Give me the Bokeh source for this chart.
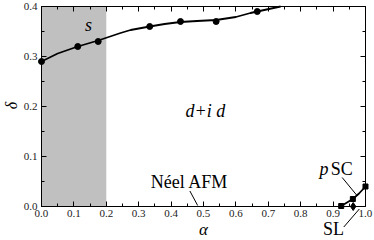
import math
from bokeh.plotting import figure
from bokeh.models import LinearAxis, Range1d, FixedTicker, CustomJSTickFormatter, PrintfTickFormatter
from bokeh.core.properties import value
from bokeh.embed import file_html
from bokeh.resources import INLINE

# d+id boundary (data points)
dpid_alpha = [0.0, 0.112, 0.175, 0.334, 0.429, 0.539, 0.666]
dpid_delta = [0.29, 0.32, 0.33, 0.36, 0.37, 0.37, 0.39]
# smooth boundary curve
fit_alpha = [0.0, 0.05, 0.112, 0.175, 0.244, 0.275, 0.334, 0.38, 0.429, 0.48, 0.539, 0.6, 0.645, 0.666, 0.738]
fit_delta = [0.29, 0.306, 0.32, 0.332, 0.347, 0.353, 0.36, 0.365, 0.369, 0.371, 0.373, 0.379, 0.387, 0.39, 0.40]
# p SC boundary
psc_alpha = [0.925, 0.961, 1.0]
psc_delta = [0.001, 0.015, 0.04]
psc_fit_alpha = [0.925, 0.961, 0.98, 1.0]
psc_fit_delta = [0.001, 0.015, 0.026, 0.04]
# spin liquid point
sl_alpha = [0.962]
sl_delta = [0.0]
# s-wave shaded region
s_left, s_right = 0.0, 0.2
x_min, x_max = 0.0, 1.0
y_min, y_max = 0.0, 0.4

x_ticks = [0.0, 0.1, 0.2, 0.3, 0.4, 0.5, 0.6, 0.7, 0.8, 0.9, 1.0]
y_ticks = [0.0, 0.1, 0.2, 0.3, 0.4]
x_minor = [round(0.05 * i, 2) for i in range(21)]
y_minor = [round(0.05 * i, 2) for i in range(9)]

SERIF = "'Liberation Serif', 'Times New Roman', serif"

p = figure(width=374, height=240, output_backend="svg", toolbar_location=None,
           x_range=Range1d(-0.1265, 1.0278), y_range=Range1d(-0.068, 0.412),
           min_border=0, x_axis_location=None, y_axis_location=None)
p.grid.visible = False
p.outline_line_color = None
p.background_fill_color = "white"
p.border_fill_color = "white"

def style_axis(ax, label=True):
    ax.axis_line_color = "black"
    ax.axis_line_width = 1
    ax.major_tick_in = 5
    ax.major_tick_out = 0
    ax.minor_tick_in = 3
    ax.minor_tick_out = 0
    ax.major_tick_line_color = "black"
    ax.minor_tick_line_color = "black"
    ax.major_label_text_font = SERIF
    ax.major_label_text_font_size = "11px"
    ax.major_label_text_color = "#222222"
    ax.major_label_standoff = 3
    ax.formatter = PrintfTickFormatter(format="%.1f")
    if not label:
        ax.formatter = CustomJSTickFormatter(code="return ''")
        ax.major_label_text_font_size = "0px"
        ax.major_label_standoff = 0

xb = LinearAxis(ticker=FixedTicker(ticks=x_ticks, minor_ticks=x_minor), fixed_location=y_min, bounds=(x_min, x_max))
style_axis(xb)
p.add_layout(xb, "below")

xt = LinearAxis(ticker=FixedTicker(ticks=x_ticks, minor_ticks=x_minor), fixed_location=y_max, bounds=(x_min, x_max))
style_axis(xt, label=False)
p.add_layout(xt, "above")

yl = LinearAxis(ticker=FixedTicker(ticks=y_ticks, minor_ticks=y_minor), fixed_location=x_min, bounds=(y_min, y_max))
style_axis(yl)
yl.major_label_standoff = 4
p.add_layout(yl, "left")

yr = LinearAxis(ticker=FixedTicker(ticks=y_ticks, minor_ticks=y_minor), fixed_location=x_max, bounds=(y_min, y_max))
style_axis(yr, label=False)
p.add_layout(yr, "right")

# shaded s region
p.quad(left=[s_left], right=[s_right], bottom=[y_min], top=[y_max],
       fill_color="#c0c0c0", line_color=None, level="underlay")

# curves
p.line(fit_alpha, fit_delta, line_color="black", line_width=1.8)
p.scatter(dpid_alpha, dpid_delta, marker="circle", size=6, color="black")
p.line(psc_fit_alpha, psc_fit_delta, line_color="black", line_width=1.8)
p.scatter(psc_alpha, psc_delta, marker="square", size=5, color="black")
p.scatter(sl_alpha, sl_delta, marker="diamond", size=8, color="black")

def txt(x, y, s, size="18px", style="normal", align="center", angle=0.0):
    p.text(x=[x], y=[y], text=[s], text_font=value(SERIF), text_font_style=style,
           text_font_size=size, text_align=align, text_baseline="middle",
           text_color="black", angle=angle)

# axis titles
txt(0.5, -0.046, "α", size="17px", style="italic")
txt(-0.094, 0.202, "δ", size="16px", style="italic", angle=math.pi / 2)

# region labels
txt(0.145, 0.364, "s", style="italic")
txt(0.506, 0.192, "d+i d", style="italic")
txt(0.457, 0.049, "Néel AFM")
p.segment(x0=[0.458], y0=[0.031], x1=[0.482], y1=[0.002], line_color="black", line_width=1)

txt(0.886, 0.076, "p", style="italic", align="right")
txt(0.893, 0.076, "SC", align="left")
p.segment(x0=[0.928], y0=[0.058], x1=[0.975], y1=[0.021], line_color="black", line_width=1)

txt(0.901, -0.045, "SL")
p.segment(x0=[0.933], y0=[-0.041], x1=[0.981], y1=[-0.005], line_color="black", line_width=1)

open("out.html", "w").write(file_html(p, INLINE))
